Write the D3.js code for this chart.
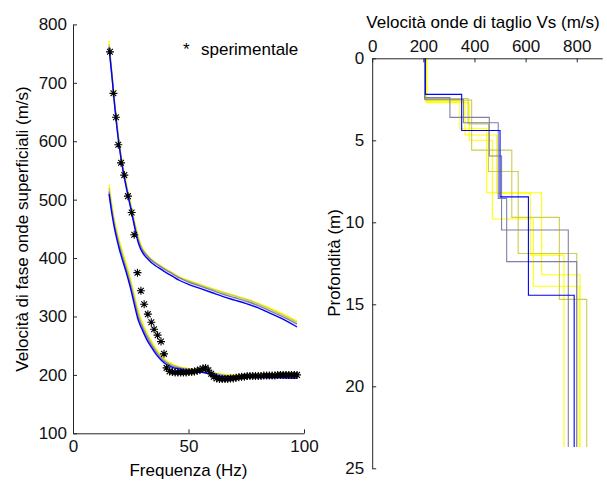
<!DOCTYPE html>
<html><head><meta charset="utf-8">
<script src="https://cdn.jsdelivr.net/npm/d3@7"></script>
<style>
body{margin:0;background:#fff;}
svg{display:block;}
text{font-family:"Liberation Sans",Arial,sans-serif;}
</style></head>
<body>
<svg id="c" width="607" height="482"></svg>
<script>
// ---------- DATA ----------
// Dispersion curves (left panel)
const freqTicks = [0, 50, 100];
const velTicks = [100, 200, 300, 400, 500, 600, 700, 800];
const expFreq = [16.0, 17.5, 18.6, 19.6, 20.8, 22.2, 23.8, 25.4, 26.5, 27.9, 29.4, 30.8, 32.4, 33.9, 35.1, 36.6, 38.1, 39.4, 40.5,
  41.8, 43.0, 44.2, 45.4, 46.6, 47.8, 49.0, 50.2, 51.4, 52.6, 53.8, 55.0, 56.2, 57.4, 58.6, 59.8, 61.0, 62.2, 63.4, 64.6, 65.8,
  67.0, 68.2, 69.4, 70.6, 71.8, 73.0, 74.2, 75.4, 76.6, 77.8, 79.0, 80.2, 81.4, 82.6, 83.8, 85.0, 86.2, 87.4, 88.6, 89.8,
  91.0, 92.2, 93.4, 94.6, 95.8, 97.0];
const expVel = [753, 682, 641, 594, 563, 542, 506, 478, 440, 375, 344, 321, 304, 290, 278, 268, 257, 236, 212,
  206, 205, 204, 204, 204, 204, 204, 205, 205, 206, 207, 209, 211, 212, 208, 202, 197, 194, 193, 193, 193,
  193, 194, 194, 195, 196, 197, 197, 198, 198, 198, 198, 198, 198, 199, 199, 199, 199, 199, 200, 200,
  200, 200, 200, 200, 200, 200];

const curveFreq = [15.6, 17, 18, 19, 20, 21, 22, 23, 24, 25, 26, 27, 28, 29, 30, 32, 34, 36, 38, 40, 43, 46, 50, 55, 60, 65, 70, 75, 80, 85, 90, 97];
const yellowMode1 = [772, 713, 670, 632, 600, 573, 550, 530, 511, 493, 475, 457, 441, 428, 418, 406, 398, 392, 387, 382, 375, 368, 362, 355, 348, 342, 336, 330, 323, 315, 306, 292];
const oliveMode1  = [766, 710, 667, 629, 597, 570, 547, 527, 508, 490, 472, 454, 438, 425, 416, 405, 397, 391, 386, 381, 374, 367, 361, 354, 347, 341, 335, 329, 322, 313, 304, 290];
const grayMode1   = [762, 707, 664, 626, 594, 567, 544, 524, 505, 487, 468, 450, 434, 422, 414, 404, 396, 390, 385, 380, 373, 366, 359, 352, 345, 338, 332, 326, 319, 310, 301, 287];
const blueMode1   = [760, 705, 662, 624, 592, 565, 542, 522, 503, 485, 466, 447, 430, 418, 410, 400, 392, 386, 381, 376, 369, 362, 355, 348, 341, 334, 328, 322, 315, 306, 297, 282];
const yellowMode2 = [526, 487, 465, 447, 431, 417, 404, 391, 378, 363, 347, 330, 314, 301, 290, 273, 258, 245, 234, 226, 219, 214, 211, 208, 204, 201, 200, 200, 199, 199, 199, 198];
const oliveMode2  = [520, 482, 460, 442, 426, 412, 399, 386, 373, 358, 342, 325, 309, 296, 286, 269, 255, 242, 232, 224, 217, 213, 210, 207, 203, 200, 199, 199, 198, 198, 198, 197];
const grayMode2   = [514, 477, 455, 437, 421, 407, 394, 381, 367, 352, 336, 319, 303, 291, 282, 265, 251, 239, 229, 222, 215, 212, 209, 207, 204, 199, 198, 198, 197, 197, 197, 196];
const blueMode2   = [510, 472, 450, 432, 416, 402, 389, 376, 362, 347, 330, 313, 297, 286, 277, 260, 247, 235, 226, 219, 213, 210, 207, 205, 201, 197, 197, 196, 196, 195, 195, 194];

// Shear-wave profiles (right panel)
const vsTicks = [0, 200, 400, 600, 800];
const depthTicks = [0, 5, 10, 15, 20, 25];
const profileBottom = 23.7;
const yellow1Vs = [210, 363, 487, 618, 750], yellow1Depth = [2.65, 4.68, 8.23, 12.0];
const yellow2Vs = [212, 343, 448, 663, 813], yellow2Depth = [2.6, 4.3, 8.2, 13.2];
const yellow3Vs = [214, 380, 470, 630, 810], yellow3Depth = [2.7, 5.0, 9.8, 13.9];
const olive1Vs  = [208, 389, 546, 732, 839], olive1Depth  = [2.55, 5.6, 9.7, 14.7];
const olive2Vs  = [206, 375, 455, 571, 800], olive2Depth  = [2.45, 4.0, 6.9, 11.9];
const gray1Vs   = [205, 304, 458, 506, 767], gray1Depth   = [2.4, 3.6, 5.96, 10.47];
const gray2Vs   = [205, 357, 493, 526, 800], gray2Depth   = [2.5, 3.93, 8.54, 12.4];
const blueVs    = [208, 350, 500, 611, 790], blueDepth    = [2.2, 4.4, 8.45, 14.45];

// ---------- STYLE ----------
const C_YEL = "#ffff00", C_OLI = "#cdcd52", C_GRY = "#8080a6", C_BLU = "#0000ff";
const FONT = 17;
const AX = "#262626";

const svg = d3.select("#c");

function styleAxis(g) {
  g.selectAll("path.domain").attr("stroke", AX).attr("stroke-width", 1);
  g.selectAll(".tick line").attr("stroke", AX);
  g.selectAll(".tick text").attr("font-size", FONT).attr("fill", "#111")
    .attr("font-family", '"Liberation Sans", Arial, sans-serif');
  g.attr("font-size", null).attr("font-family", null);
}

// ---------- LEFT PANEL ----------
const xL = d3.scaleLinear().domain([0, 100]).range([73, 304]);
const yL = d3.scaleLinear().domain([100, 800]).range([433.3, 24.4]);

const lineL = d3.line().x(d => xL(d[0])).y(d => yL(d[1])).curve(d3.curveMonotoneX);
const curves = [
  [yellowMode1, C_YEL], [yellowMode2, C_YEL],
  [oliveMode1, C_OLI], [oliveMode2, C_OLI],
  [grayMode1, C_GRY], [grayMode2, C_GRY],
  [blueMode1, C_BLU], [blueMode2, C_BLU]
];
const gL = svg.append("g");
curves.forEach(([vals, col]) => {
  gL.append("path").datum(curveFreq.map((f, i) => [f, vals[i]]))
    .attr("d", lineL).attr("fill", "none").attr("stroke", col).attr("stroke-width", 1.4);
});

// experimental stars
const r = 4;
gL.append("g").selectAll("path").data(expFreq.map((f, i) => [f, expVel[i]])).join("path")
  .attr("transform", d => `translate(${xL(d[0])},${yL(d[1])})`)
  .attr("d", `M${-r},0H${r}M0,${-r}V${r}M${-r*0.72},${-r*0.72}L${r*0.72},${r*0.72}M${r*0.72},${-r*0.72}L${-r*0.72},${r*0.72}`)
  .attr("stroke", "#000").attr("stroke-width", 1.1).attr("fill", "none");

svg.append("g").attr("transform", "translate(0,433.3)")
  .call(d3.axisBottom(xL).tickValues(freqTicks).tickSizeInner(-4).tickSizeOuter(0).tickPadding(7))
  .call(styleAxis);
svg.append("g").attr("transform", "translate(73,0)")
  .call(d3.axisLeft(yL).tickValues(velTicks).tickSizeInner(-4).tickSizeOuter(0).tickPadding(6))
  .call(styleAxis);

svg.append("text").attr("x", 188.5).attr("y", 476).attr("text-anchor", "middle")
  .attr("font-size", FONT).text("Frequenza (Hz)");
svg.append("text").attr("transform", "translate(28,229) rotate(-90)").attr("text-anchor", "middle")
  .attr("font-size", FONT).text("Velocità di fase onde superficiali (m/s)");

// legend
svg.append("text").attr("x", 183).attr("y", 55).attr("font-size", FONT).text("*");
svg.append("text").attr("x", 201).attr("y", 55).attr("font-size", FONT).text("sperimentale");

// ---------- RIGHT PANEL ----------
const xR = d3.scaleLinear().domain([0, 900]).range([372.2, 602.3]);
const yR = d3.scaleLinear().domain([0, 25]).range([58.3, 468.3]);

function stepPoints(vs, depth) {
  const pts = [];
  let top = 0;
  vs.forEach((v, i) => {
    const bot = i < depth.length ? depth[i] : profileBottom;
    pts.push([v, top], [v, bot]);
    top = bot;
  });
  return pts;
}
const lineR = d3.line().x(d => xR(d[0])).y(d => yR(d[1]));
const profiles = [
  [yellow1Vs, yellow1Depth, C_YEL], [yellow2Vs, yellow2Depth, C_YEL], [yellow3Vs, yellow3Depth, C_YEL],
  [olive1Vs, olive1Depth, C_OLI], [olive2Vs, olive2Depth, C_OLI],
  [gray1Vs, gray1Depth, C_GRY], [gray2Vs, gray2Depth, C_GRY],
  [blueVs, blueDepth, C_BLU]
];
const gR = svg.append("g");
profiles.forEach(([vs, dp, col]) => {
  gR.append("path").datum(stepPoints(vs, dp)).attr("d", lineR)
    .attr("fill", "none").attr("stroke", col).attr("stroke-width", 1.1);
});

svg.append("g").attr("transform", "translate(0,58.3)")
  .call(d3.axisTop(xR).tickValues(vsTicks).tickSizeInner(-4).tickSizeOuter(0).tickPadding(6))
  .call(styleAxis);
svg.append("g").attr("transform", "translate(372.2,0)")
  .call(d3.axisLeft(yR).tickValues(depthTicks).tickSizeInner(-4).tickSizeOuter(0).tickPadding(8))
  .call(styleAxis);

svg.append("text").attr("x", 483).attr("y", 27.5).attr("text-anchor", "middle")
  .attr("font-size", FONT).text("Velocità onde di taglio Vs (m/s)");
svg.append("text").attr("transform", "translate(340,263) rotate(-90)").attr("text-anchor", "middle")
  .attr("font-size", FONT).text("Profondità (m)");
</script>
</body></html>
